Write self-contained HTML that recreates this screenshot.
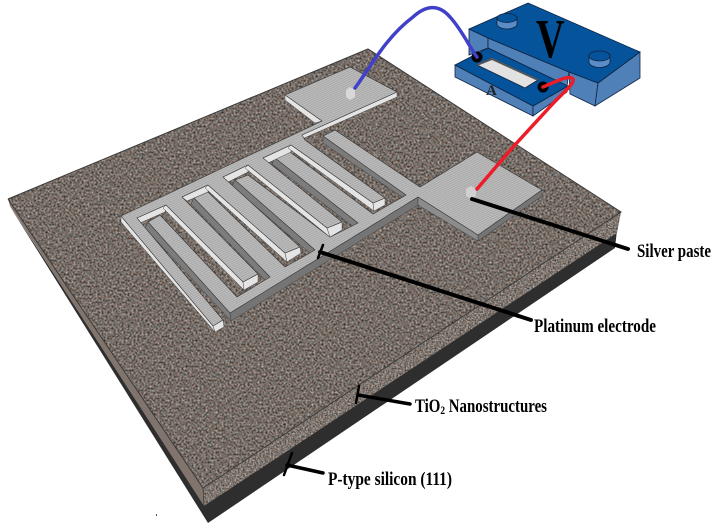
<!DOCTYPE html>
<html><head><meta charset="utf-8"><style>html,body{margin:0;padding:0;background:#fff}svg{display:block}text{font-family:"Liberation Serif",serif;font-weight:bold;fill:#000}</style></head><body>
<svg width="715" height="527" viewBox="0 0 715 527" xmlns="http://www.w3.org/2000/svg">
<defs>
<filter id="n" x="0" y="0" width="1" height="1" color-interpolation-filters="sRGB">
<feTurbulence type="fractalNoise" baseFrequency="0.5" numOctaves="2" seed="7"/>
<feColorMatrix type="matrix" values=".75 .3 0 0 -.065  .75 .05 0 0 .025  .75 -.05 0 0 .05  0 0 0 0 1"/>
<feComposite in2="SourceGraphic" operator="in"/>
</filter>
<filter id="n2" x="0" y="0" width="1" height="1" color-interpolation-filters="sRGB">
<feTurbulence type="fractalNoise" baseFrequency="0.6" numOctaves="2" seed="3"/>
<feColorMatrix type="matrix" values=".75 .3 0 0 -.03  .75 .05 0 0 .06  .75 -.05 0 0 .085  0 0 0 0 1"/>
<feComposite in2="SourceGraphic" operator="in"/>
</filter>
<pattern id="st" width="4" height="2" patternUnits="userSpaceOnUse" patternTransform="rotate(-26)">
<rect width="4" height="2" fill="#bebebe"/><rect width="4" height="1" fill="#a8a8a8"/>
</pattern>
</defs>

<!-- substrate -->
<polygon points="9,205 208,523 615,248 617,230 204,504" fill="#2e2e2e"/>
<polygon points="8,199 203,488 204,506 10,206" fill="#80746d"/>
<polygon points="203,488 621,212 617,233 204,506" filter="url(#n2)"/>
<polygon points="8,199 368,49 621,212 203,488" filter="url(#n)"/>
<polyline points="8,199 368,49 621,212 203,488 8,199" fill="none" stroke="#3a3a3a" stroke-width="1"/>
<line x1="203" y1="488" x2="204" y2="506" stroke="#333" stroke-width=".7"/>

<!-- comb B dark side faces -->
<g fill="#7c7c7c" stroke="#333" stroke-width=".4">
<polygon points="148,222 230,313 231,321 145,228"/>
<polygon points="194,198 270,277 267,282 191,204"/>
<polygon points="235,180 315,250 312,255 232,186"/>
<polygon points="275,158 358,223 355,228 272,164"/>
<polygon points="323,136 406,195 402,197 323,143"/>
<polygon points="230,313 418,197 418,205 231,321" fill="#757575"/>
<polygon points="478,235 542,190 542,196 478,241" fill="#757575"/>
<polygon points="418,197 478,235 478,241 418,205" fill="#8c8c8c"/>
</g>
<!-- comb B top -->
<polygon points="148,222 160,215 237,297 270,277 194,198 208,192 285,267 315,250 235,180 248,175 330,237 358,223 275,158 290,152 373,214 406,195 323,136 335,130 420,187 477,152 542,190 478,235 418,197 230,313" fill="url(#st)" stroke="#333" stroke-width=".6"/>

<!-- comb A light side faces -->
<g fill="#e4e4e4" stroke="#333" stroke-width=".4">
<polygon points="121,216 121,222 215,332 213,326"/>
<polygon points="137,218 166,205 165,212 140,223"/>
<polygon points="182,197 208,185 208,192 187,201"/>
<polygon points="223,177 248,165 248,172 228,182"/>
<polygon points="263,158 291,145 291,152 268,163"/>
<polygon points="166,205 243,282 244,290 163,208"/>
<polygon points="208,185 285,253 287,262 205,188"/>
<polygon points="248,165 327,228 330,237 245,168"/>
<polygon points="291,145 373,203 374,211 288,148"/>
<polygon points="213,326 223,320 224,327 215,332"/>
<polygon points="243,282 258,274 258,282 244,290"/>
<polygon points="285,253 300,247 301,253 287,262"/>
<polygon points="327,228 342,222 342,230 330,237"/>
<polygon points="373,203 385,198 385,205 374,211"/>
<polygon points="397,92 397,97 302,139 302,135"/>
<polygon points="285,95 322,121 315,123 285,100"/>
</g>
<!-- comb A top -->
<polygon points="121,216 322,121 285,95 350,67 397,92 302,135 305,140 385,198 373,203 291,145 263,158 342,222 327,228 248,165 223,177 300,247 285,253 208,185 182,197 258,274 243,282 166,205 137,218 223,320 213,326" fill="url(#st)" stroke="#333" stroke-width=".6"/>

<!-- silver paste -->
<polygon points="350,87 355,90 355,97 350,100 346,97 346,90" fill="#d8d8d8"/>
<polygon points="471,186 476,189 476,196 471,199 466,196 466,189" fill="#d0d0d0"/>

<!-- device -->
<g stroke="#10233f" stroke-width=".8">
<polygon points="469,29 488,38 488,48 469,55" fill="#5080b8"/>
<polygon points="488,38 569,72 567,86 488,48" fill="#5080b8"/>
<polygon points="569,72 598,83 595,106 570,94" fill="#5080b8"/>
<polygon points="598,83 640,52 640,78 595,106" fill="#5080b8"/>
<polygon points="528,3 640,52 598,83 569,72 488,38 469,29" fill="#04539b"/>
<polygon points="455,65 533,106 533,116 455,77" fill="#5080b8"/>
<polygon points="533,106 568,86 567,92 533,116" fill="#5080b8"/>
<polygon points="455,65 488,48 568,86 533,106" fill="#04539b"/>
<polygon points="477,65 492,59 538,80 525,88" fill="#e2e2e2"/>
<polyline points="477,65 492,59 538,80" fill="none" stroke="#555" stroke-width="2"/>
<path d="M497,17v7a10,5 0 0 0 20,0v-7z" fill="#5b8cc8"/>
<ellipse cx="507" cy="18" rx="10" ry="4.5" fill="#04539b"/>
<path d="M589,56v6a10.500,5.500 0 0 0 21,0v-6z" fill="#5b8cc8"/>
<ellipse cx="599.500" cy="56" rx="10.500" ry="5" fill="#04539b"/>
</g>
<circle cx="477" cy="57" r="5.500" fill="#000"/>
<circle cx="543" cy="87" r="5.500" fill="#000"/>
<text x="0" y="0" font-size="55" transform="translate(536,57) scale(.72,1)">V</text>
<text x="486" y="95" font-size="15" style="fill:#222">A</text>

<!-- wires -->
<path d="M355,88 C370,68 385,38 413,17 C425,6 438,3 450,17 C462,30 470,48 477,57" fill="none" stroke="#4040c8" stroke-width="3.500" stroke-linecap="round"/>
<path d="M477,189 L513,147 L547,110 C560,95 575,84 573,79 C570,74 555,82 543,87" fill="none" stroke="#ec1c28" stroke-width="3.500" stroke-linecap="round"/>

<!-- leaders -->
<g stroke="#000" fill="none" stroke-linecap="round">
<path d="M472,199 L628,249" stroke-width="4"/>
<path d="M320,252 L531,320" stroke-width="4"/>
<path d="M323,245 L318,258" stroke-width="2.500"/>
<path d="M358,395 L410,404" stroke-width="3.500"/>
<path d="M359,386 L356,403" stroke-width="2.500"/>
<path d="M287,465 L323,473" stroke-width="3.500"/>
<path d="M292,453 L284,475" stroke-width="2.500"/>
</g>

<!-- labels -->
<text x="637" y="257" font-size="19" textLength="74" lengthAdjust="spacingAndGlyphs">Silver paste</text>
<text x="534" y="332" font-size="19" textLength="122" lengthAdjust="spacingAndGlyphs">Platinum electrode</text>
<text x="415" y="412" font-size="19" textLength="132" lengthAdjust="spacingAndGlyphs">TiO<tspan font-size="12" dy="2">2</tspan><tspan dy="-2"> Nanostructures</tspan></text>
<text x="328" y="485" font-size="19" textLength="124" lengthAdjust="spacingAndGlyphs">P-type silicon (111)</text>
<rect x="156" y="514" width="1" height="2" fill="#555"/>
</svg>
</body></html>
